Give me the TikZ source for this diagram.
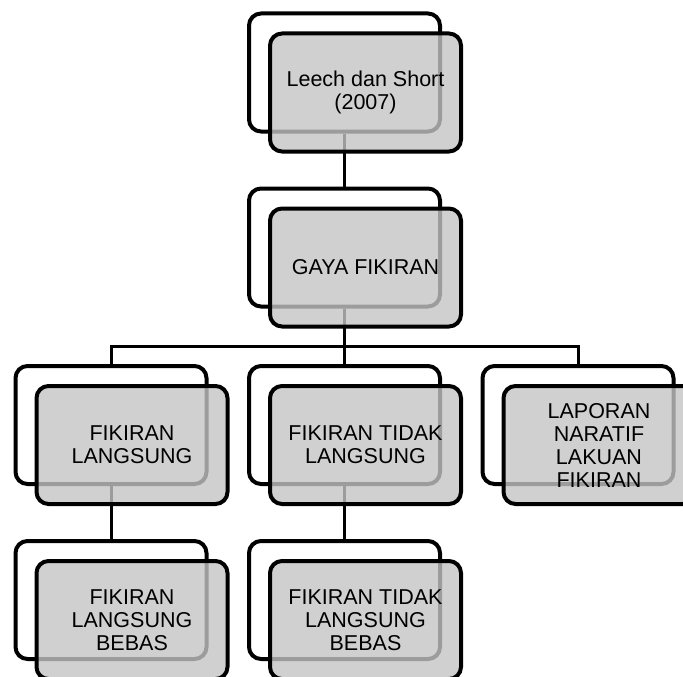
\documentclass[tikz,border=0pt]{standalone}
\usepackage{fontspec}
\setmainfont{Liberation Sans}
\definecolor{boxgray}{RGB}{196,196,196}

\begin{document}
\begin{tikzpicture}[
	x = 1pt, y = -1pt,
	card/.style = {minimum width = 191pt, minimum height = 118pt, rounded corners = 12pt, line width = 4pt, draw},
	back/.style = {card},
	front/.style = {card, fill = boxgray, fill opacity = 0.8, text opacity = 1, align = center, font = \fontsize{21.5}{23}\selectfont},
	link/.style = {line width = 3pt}
	]
	\useasboundingbox (0,0) rectangle (683,677);
	% back boxes
	\node[back] (leech-b) at (344.5,72.5) {};
	\node[back] (gaya-b) at (344.5,247.5) {};
	\node[back] (fl-b) at (111,425) {};
	\node[back] (ftl-b) at (344.5,425) {};
	\node[back] (lnlf-b) at (578,425) {};
	\node[back] (flb-b) at (111,600) {};
	\node[back] (ftlb-b) at (344.5,600) {};
	% connectors
	\coordinate (bar) at (344.5,346);
	\draw[link] (leech-b) -- (gaya-b);
	\draw[link] (gaya-b) -- (bar);
	\draw[link] (bar) -| (fl-b.north);
	\draw[link] (bar) -- (ftl-b.north);
	\draw[link] (bar) -| (lnlf-b.north);
	\draw[link] (fl-b) -- (flb-b);
	\draw[link] (ftl-b) -- (ftlb-b);
	% front boxes
	\node[front] (leech) at ([shift={(21,20)}]leech-b) {Leech dan Short\\(2007)};
	\node[front] (gaya) at ([shift={(21,20)}]gaya-b) {GAYA FIKIRAN};
	\node[front] (fl) at ([shift={(21,20)}]fl-b) {FIKIRAN\\LANGSUNG};
	\node[front] (ftl) at ([shift={(21,20)}]ftl-b) {FIKIRAN TIDAK\\LANGSUNG};
	\node[front] (lnlf) at ([shift={(21,20)}]lnlf-b) {LAPORAN\\NARATIF\\LAKUAN\\FIKIRAN};
	\node[front] (flb) at ([shift={(21,20)}]flb-b) {FIKIRAN\\LANGSUNG\\BEBAS};
	\node[front] (ftlb) at ([shift={(21,20)}]ftlb-b) {FIKIRAN TIDAK\\LANGSUNG\\BEBAS};
\end{tikzpicture}
\end{document}
